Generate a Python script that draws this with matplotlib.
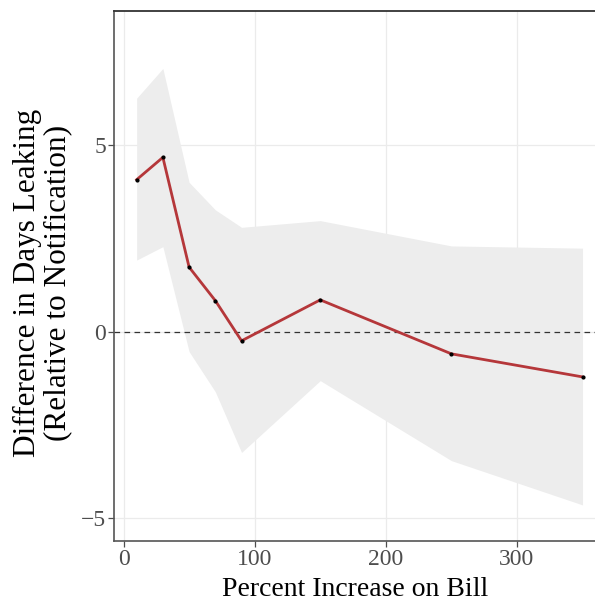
import matplotlib.pyplot as plt

plt.rcParams['font.family'] = ['Liberation Serif', 'DejaVu Serif']

pct_increase = [10, 30, 50, 70, 90, 150, 250, 350]
estimate = [4.08, 4.68, 1.73, 0.83, -0.25, 0.85, -0.60, -1.22]
ci_upper = [6.27, 7.07, 4.01, 3.27, 2.80, 2.98, 2.30, 2.24]
ci_lower = [1.92, 2.28, -0.54, -1.62, -3.25, -1.32, -3.47, -4.66]

x_ticks = [0, 100, 200, 300]
y_ticks = [-5, 0, 5]
y_tick_labels = ['\u22125', '0', '5']

fig = plt.figure(figsize=(5.95, 6.02), dpi=100)
ax = fig.add_axes([0.1924, 0.1013, 0.8076, 0.8796])

ax.fill_between(pct_increase, ci_lower, ci_upper, color='#ededed', linewidth=0, zorder=1)
ax.axhline(0, color='#333333', linestyle=(0, (4.5, 3.5)), linewidth=0.9, zorder=2)
ax.plot(pct_increase, estimate, color='#b5373a', linewidth=2, zorder=3)
ax.scatter(pct_increase, estimate, color='black', s=4, zorder=4)

ax.set_xlim(-6.9, 359.5)
ax.set_ylim(-5.63, 8.60)
ax.set_xticks(x_ticks)
ax.set_yticks(y_ticks)
ax.set_yticklabels(y_tick_labels)
ax.grid(True, color='#ebebeb', linewidth=0.9, zorder=0)
ax.set_axisbelow(True)

ax.spines['right'].set_visible(False)
ax.spines['top'].set_color('#333333')
ax.spines['top'].set_linewidth(1.3)
ax.spines['left'].set_color('#555555')
ax.spines['bottom'].set_color('#555555')
ax.spines['left'].set_linewidth(1.2)
ax.spines['bottom'].set_linewidth(1.2)

ax.tick_params(axis='both', colors='#4d4d4d', labelsize=17, length=4, width=0.9, pad=2)

ax.set_xlabel('Percent Increase on Bill', fontsize=20, labelpad=5)
ax.set_ylabel('Difference in Days Leaking\n(Relative to Notification)', fontsize=22.5,
              linespacing=1.05)
ax.yaxis.set_label_coords(-0.088, 0.487)

fig.savefig('out.png', dpi=100)
